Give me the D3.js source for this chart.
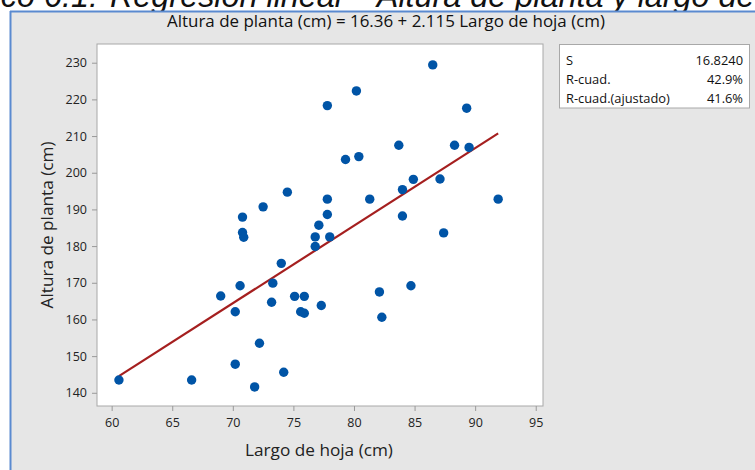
<!DOCTYPE html>
<html><head><meta charset="utf-8">
<script src="https://cdn.jsdelivr.net/npm/d3@7"></script>
<style>body{margin:0;background:#fff;}svg{display:block;}</style>
</head><body>
<svg id="c" width="755" height="470"></svg>
<script>
const largoHoja = [60.6,66.6,69.0,70.6,70.2,70.2,71.8,72.2,74.2,73.3,73.2,74.0,70.8,70.8,70.9,72.5,74.5,86.5,80.2,77.8,89.3,83.7,88.3,89.5,79.3,80.4,77.8,81.3,91.9,84.9,87.1,84.0,77.8,84.0,77.1,76.8,78.0,76.8,87.4,75.1,75.9,75.6,75.9,77.3,82.1,84.7,82.3];
const alturaPlanta = [143.5,143.5,166.4,169.2,162.1,147.8,141.6,153.5,145.6,169.9,164.7,175.3,187.9,183.7,182.4,190.7,194.7,229.4,222.3,218.3,217.6,207.5,207.5,206.9,203.6,204.4,192.8,192.8,192.8,198.2,198.3,195.4,188.6,188.2,185.7,182.5,182.5,179.9,183.6,166.3,166.3,162.1,161.7,163.8,167.5,169.2,160.6];
const intercept = 16.36, slope = 2.115;
const xTicks = [60,65,70,75,80,85,90,95];
const yTicks = [140,150,160,170,180,190,200,210,220,230];
const statLabels = ["S","R-cuad.","R-cuad.(ajustado)"];
const statValues = ["16.8240","42.9%","41.6%"];
const chartTitle = "Altura de planta (cm) = 16.36 + 2.115 Largo de hoja (cm)";
const xTitle = "Largo de hoja (cm)";
const yTitle = "Altura de planta (cm)";
const captionPrefix = "Gráfico 6.1:";
const captionMain = "Regresión lineal – Altura de planta y largo de hoja";
const captionFitPart = "Regresión lineal – Altura de planta y largo de";

const svg = d3.select("#c");
const font = "'Open Sans', 'Noto Sans', sans-serif";
const capFont = "'Liberation Sans', Arial, sans-serif";

function fitSize(str, family, style, size, target){
  const t = svg.append("text").attr("font-family",family).attr("font-style",style)
    .attr("font-size",size).text(str);
  const w = t.node().getComputedTextLength();
  t.remove();
  return size*target/w;
}

// caption (cut at top as in the reference)
const capSize = fitSize(captionFitPart, capFont, "italic", 30, 645);
svg.append("text").attr("x",98).attr("y",7).attr("text-anchor","end")
  .attr("font-family",capFont).attr("font-style","italic")
  .attr("font-size",capSize).attr("fill","#111").text(captionPrefix);
svg.append("text").attr("x",110).attr("y",7)
  .attr("font-family",capFont).attr("font-style","italic")
  .attr("font-size",capSize).attr("fill","#111").text(captionMain);

// frame
svg.append("rect").attr("x",10).attr("y",11).attr("width",760).attr("height",470)
  .attr("fill","#e6e6e6");
svg.append("line").attr("x1",10.5).attr("x2",10.5).attr("y1",11).attr("y2",470).attr("stroke","#5a8ad0").attr("stroke-width",2);
svg.append("line").attr("x1",10).attr("x2",755).attr("y1",11.5).attr("y2",11.5).attr("stroke","#5a8ad0").attr("stroke-width",2);

const L=97, R=543, T=44, B=406;
const x = d3.scaleLinear().domain([58.79,95.6]).range([L,R]);
const y = d3.scaleLinear().domain([136.4,235.1]).range([B,T]);

svg.append("rect").attr("x",L).attr("y",T).attr("width",R-L).attr("height",B-T)
  .attr("fill","#fff").attr("stroke","#a8a8a8").attr("stroke-width",1);

const xa = svg.append("g").attr("transform",`translate(0,${B})`)
  .call(d3.axisBottom(x).tickValues(xTicks).tickSize(5).tickPadding(7).tickFormat(d3.format("d")));
const ya = svg.append("g").attr("transform",`translate(${L},0)`)
  .call(d3.axisLeft(y).tickValues(yTicks).tickSize(5).tickPadding(5).tickFormat(d3.format("d")));
[xa,ya].forEach(a=>{
  a.select(".domain").remove();
  a.selectAll(".tick line").attr("stroke","#999");
  a.selectAll(".tick text").attr("font-family",font).attr("font-size",12.5).attr("fill","#222");
});

// regression line
const xmin = d3.min(largoHoja), xmax = d3.max(largoHoja);
svg.append("line")
  .attr("x1",x(xmin)).attr("y1",y(intercept+slope*xmin))
  .attr("x2",x(xmax)).attr("y2",y(intercept+slope*xmax))
  .attr("stroke","#a51f1f").attr("stroke-width",2.2);

svg.append("g").selectAll("circle").data(largoHoja).join("circle")
  .attr("cx",d=>x(d)).attr("cy",(d,i)=>y(alturaPlanta[i])).attr("r",4.7)
  .attr("fill","#0054a6");

// titles
const tSize = fitSize(chartTitle, font, "normal", 14, 438);
svg.append("text").attr("x",386).attr("y",27).attr("text-anchor","middle")
  .attr("font-family",font).attr("font-size",tSize).attr("fill","#111").text(chartTitle);
const xtSize = fitSize(xTitle, font, "normal", 16, 148);
svg.append("text").attr("x",319).attr("y",456).attr("text-anchor","middle")
  .attr("font-family",font).attr("font-size",xtSize).attr("fill","#222").text(xTitle);
svg.append("text").attr("transform","translate(53,225) rotate(-90)").attr("text-anchor","middle")
  .attr("font-family",font).attr("font-size",xtSize).attr("fill","#222").text(yTitle);

// stats box
svg.append("rect").attr("x",559.5).attr("y",44.5).attr("width",190).attr("height",63.5)
  .attr("fill","#fff").attr("stroke","#a8a8a8");
const sSize = fitSize("R-cuad.(ajustado)", font, "normal", 12, 104);
const rowsY=[64.5,84,103];
statLabels.forEach((s,i)=>{
  svg.append("text").attr("x",566).attr("y",rowsY[i]).attr("font-family",font)
    .attr("font-size",sSize).attr("fill","#111").text(s);
  svg.append("text").attr("x",743).attr("y",rowsY[i]).attr("text-anchor","end").attr("font-family",font)
    .attr("font-size",sSize).attr("fill","#111").text(statValues[i]);
});
</script>
</body></html>
